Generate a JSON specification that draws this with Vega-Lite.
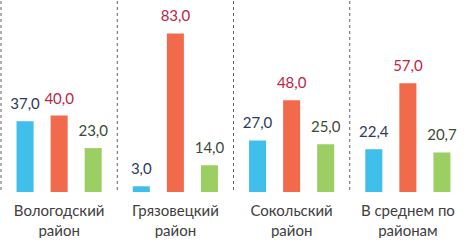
{
  "$schema": "https://vega.github.io/schema/vega-lite/v6.json",
  "width": 465,
  "height": 191,
  "padding": 0,
  "autosize": {"type": "pad"},
  "background": "white",
  "config": {
    "view": {"stroke": null},
    "font": "Lato",
    "locale": {"number": {"decimal": ",", "thousands": " ", "grouping": [3], "currency": ["", " ₽"]}}
  },
  "data": {
    "values": [
      {"group": "Вологодский район", "series": "a", "value": 37.0},
      {"group": "Вологодский район", "series": "b", "value": 40.0},
      {"group": "Вологодский район", "series": "c", "value": 23.0},
      {"group": "Грязовецкий район", "series": "a", "value": 3.0},
      {"group": "Грязовецкий район", "series": "b", "value": 83.0},
      {"group": "Грязовецкий район", "series": "c", "value": 14.0},
      {"group": "Сокольский район", "series": "a", "value": 27.0},
      {"group": "Сокольский район", "series": "b", "value": 48.0},
      {"group": "Сокольский район", "series": "c", "value": 25.0},
      {"group": "В среднем по районам", "series": "a", "value": 22.4},
      {"group": "В среднем по районам", "series": "b", "value": 57.0},
      {"group": "В среднем по районам", "series": "c", "value": 20.7}
    ]
  },
  "encoding": {
    "x": {
      "field": "group",
      "type": "nominal",
      "sort": null,
      "scale": {"paddingInner": 0, "paddingOuter": 0},
      "axis": {
        "title": null,
        "domain": false,
        "ticks": false,
        "labelAngle": 0,
        "labelFontSize": 15,
        "labelColor": "#404040",
        "labelPadding": 11,
        "labelLineHeight": 20,
        "labelBaseline": "top",
        "labelExpr": "datum.value == 'В среднем по районам' ? ['В среднем по', 'районам'] : split(datum.value, ' ')"
      }
    }
  },
  "layer": [
    {
      "transform": [{"filter": "datum.series == 'a'"}],
      "mark": {"type": "rule", "strokeDash": [3, 3], "color": "#606060", "strokeWidth": 1},
      "encoding": {"x": {"field": "group", "type": "nominal", "sort": null, "bandPosition": 0}}
    },
    {
      "transform": [{"filter": "datum.series == 'a' && datum.group == 'В среднем по районам'"}],
      "mark": {"type": "rule", "strokeDash": [3, 3], "color": "#606060", "strokeWidth": 1},
      "encoding": {"x": {"field": "group", "type": "nominal", "sort": null, "bandPosition": 1}}
    },
    {
      "mark": {"type": "bar"},
      "encoding": {
        "xOffset": {"field": "series", "type": "nominal", "scale": {"paddingInner": 0.5, "paddingOuter": 0.456}},
        "y": {"field": "value", "type": "quantitative", "scale": {"domain": [0, 99.5]}, "axis": null},
        "color": {
          "field": "series",
          "type": "nominal",
          "scale": {"domain": ["a", "b", "c"], "range": ["#3fbfea", "#f26a4c", "#9ccf63"]},
          "legend": null
        }
      }
    },
    {
      "mark": {"type": "text", "baseline": "alphabetic", "dy": -12, "fontSize": 15},
      "encoding": {
        "xOffset": {"field": "series", "type": "nominal", "scale": {"paddingInner": 0.5, "paddingOuter": 0.456}},
        "y": {"field": "value", "type": "quantitative"},
        "text": {"field": "value", "type": "quantitative", "format": ".1f", "formatType": "number"},
        "color": {
          "field": "series",
          "type": "nominal",
          "scale": {"domain": ["a", "b", "c"], "range": ["#2e3a5c", "#c02342", "#3b4b32"]},
          "legend": null
        }
      }
    }
  ],
  "resolve": {"scale": {"color": "independent"}}
}
